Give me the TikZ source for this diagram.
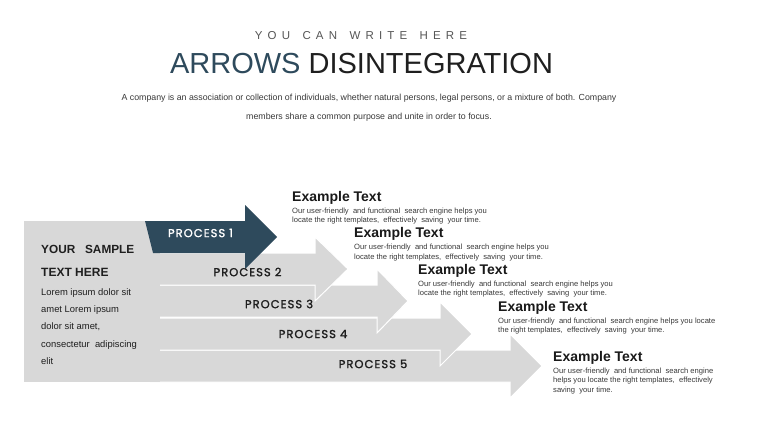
\documentclass[tikz,border=0pt]{standalone}
\usepackage{fontspec}
\setmainfont{Liberation Sans}
\newfontfamily\procfont{Poppins}[LetterSpace=9, FakeBold=1.6]
\usetikzlibrary{positioning}
\definecolor{arrdark}{RGB}{46,74,92}
\definecolor{arrgray}{RGB}{216,216,216}
\definecolor{txtgray}{RGB}{85,85,85}
\definecolor{txtdark}{RGB}{30,30,30}

\begin{document}
\begin{tikzpicture}[x=1pt, y=-1pt, every node/.style={inner sep=0pt},
  grayarrow/.style={fill=arrgray, draw=white, line width=1pt},
  proclabel/.style={font={\procfont\fontsize{11.5}{13}\selectfont}, text=txtdark},
  exhead/.style={font={\bfseries\fontsize{14}{15}\selectfont}, text=black!90, anchor=base west},
  exbody/.style={font={\fontsize{7.6}{9.5}\selectfont}, text=black!78, align=left, anchor=north west}]
\useasboundingbox (0,0) rectangle (760,428);

% heading
\node[font={\addfontfeature{LetterSpace=45}\fontsize{11.5}{13}\selectfont}, text=txtgray] (sub) at (361,36) {YOU\hspace{4pt} CAN\hspace{4pt} WRITE\hspace{4pt} HERE};
\node[font={\fontsize{29}{32}\selectfont}, text=black!88] (title) at (361.5,63.5) {{\color{arrdark}ARROWS} DISINTEGRATION};
\node[font={\fontsize{8.8}{18.3}\selectfont}, text=black!78, align=center, anchor=north] (intro) at (369,94.3)
  {A company is an association or collection of individuals, whether natural persons, legal persons, or a mixture of both. Company\\
   members share a common purpose and unite in order to focus.};

% arrows, back to front
\filldraw[grayarrow] (150,350) -- (510,350) -- (510,334) -- (542,366) -- (510,398) -- (510,382) -- (150,382) -- cycle;
\filldraw[grayarrow] (150,318) -- (440,318) -- (440,302) -- (472,334) -- (440,366) -- (440,350) -- (150,350) -- cycle;
\filldraw[grayarrow] (150,285) -- (377,285) -- (377,269) -- (408,301) -- (377,333) -- (377,317) -- (150,317) -- cycle;
\filldraw[grayarrow] (150,253) -- (315,253) -- (315,237) -- (348,269) -- (315,301) -- (315,285) -- (150,285) -- cycle;
\fill[arrgray] (24,221) rectangle (160,382);
\fill[arrdark] (145,221) -- (245,221) -- (245,205) -- (277,237) -- (245,269) -- (245,253) -- (153,253) -- cycle;

% process labels
\node[proclabel, text=white] (p1) at (200.5,233) {PROCESS 1};
\node[proclabel] (p2) at (247.5,272) {PROCESS 2};
\node[proclabel] (p3) at (279,304) {PROCESS 3};
\node[proclabel] (p4) at (313,334) {PROCESS 4};
\node[proclabel] (p5) at (373,364) {PROCESS 5};

% left box text
\node[font={\bfseries\fontsize{11.8}{14}\selectfont}, text=black!88, anchor=base west] (y1) at (41,253) {YOUR\ \ \ SAMPLE};
\node[font={\bfseries\fontsize{12}{14}\selectfont}, text=black!88, anchor=base west] (y2) at (41,276) {TEXT HERE};
\node[font={\fontsize{9.4}{17.4}\selectfont}, text=txtdark, align=left, anchor=north west] (lorem) at ([yshift=-12pt]y2.base west)
  {Lorem ipsum dolor sit\\amet Lorem ipsum\\dolor sit amet,\\consectetur\ \ adipiscing\\elit};

% example texts
\node[exhead] (h1) at (292,201) {Example Text};
\node[exbody] (b1) at ([yshift=-6.7pt]h1.base west) {Our user-friendly\ \ and functional\ \ search engine helps you\\locate the right templates,\ \ effectively\ \ saving\ \ your time.};
\node[exhead] (h2) at (354,237.5) {Example Text};
\node[exbody] (b2) at ([yshift=-6.7pt]h2.base west) {Our user-friendly\ \ and functional\ \ search engine helps you\\locate the right templates,\ \ effectively\ \ saving\ \ your time.};
\node[exhead] (h3) at (418,274) {Example Text};
\node[exbody] (b3) at ([yshift=-6.7pt]h3.base west) {Our user-friendly\ \ and functional\ \ search engine helps you\\locate the right templates,\ \ effectively\ \ saving\ \ your time.};
\node[exhead] (h4) at (498,311) {Example Text};
\node[exbody] (b4) at ([yshift=-6.7pt]h4.base west) {Our user-friendly\ \ and functional\ \ search engine helps you locate\\the right templates,\ \ effectively\ \ saving\ \ your time.};
\node[exhead] (h5) at (553,361) {Example Text};
\node[exbody] (b5) at ([yshift=-6.7pt]h5.base west) {Our user-friendly\ \ and functional\ \ search engine\\helps you locate the right templates,\ \ effectively\\saving\ \ your time.};
\end{tikzpicture}
\end{document}
